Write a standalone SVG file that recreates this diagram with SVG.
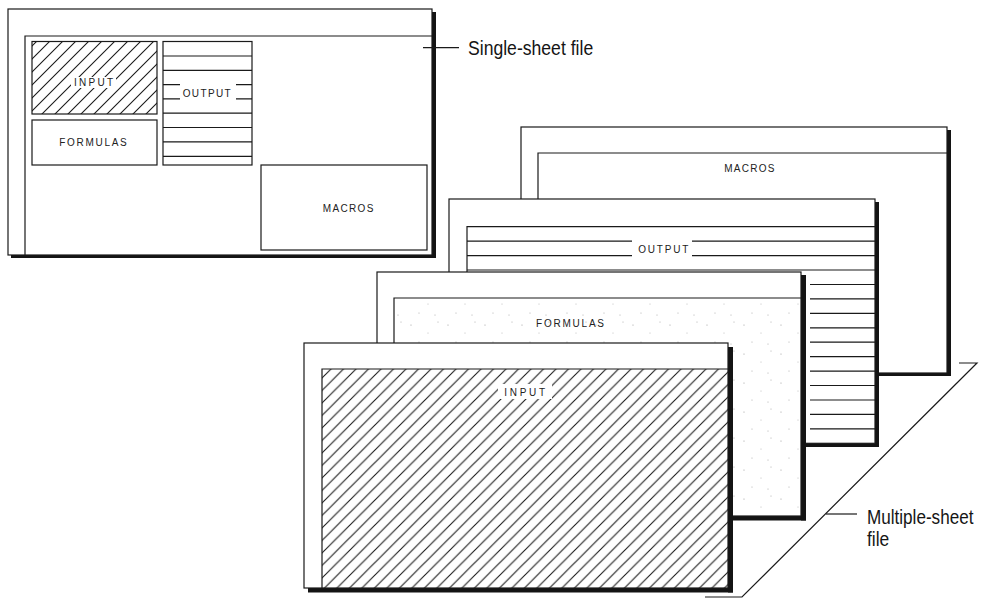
<svg xmlns="http://www.w3.org/2000/svg" width="982" height="598" viewBox="0 0 982 598">
<style>
.ln{fill:none;stroke:#1a1a1a;stroke-width:1.2}
.sh{fill:#141414;stroke:none}
.pg{fill:#fff;stroke:#1a1a1a;stroke-width:1.2}
.wh{fill:#fff;stroke:none}
.lab{font-family:"Liberation Sans",Arial,sans-serif;font-size:10px;fill:#222}
.big{font-family:"Liberation Sans",Arial,sans-serif;fill:#151515}
</style>
<defs>
<pattern id="hatchS" patternUnits="userSpaceOnUse" width="13" height="13">
<path d="M0,13 L13,0 M-3,3 L3,-3 M10,16 L16,10" stroke="#1a1a1a" stroke-width="1.1" fill="none"/>
</pattern>
<pattern id="hatchB" patternUnits="userSpaceOnUse" width="12.5" height="12.5">
<path d="M0,12.5 L12.5,0 M-3,3 L3,-3 M9.5,15.5 L15.5,9.5" stroke="#1a1a1a" stroke-width="1.1" fill="none"/>
</pattern>
<pattern id="stip" patternUnits="userSpaceOnUse" width="37" height="29">
<circle cx="4" cy="6" r="0.6" fill="#999"/>
<circle cx="21" cy="14" r="0.5" fill="#aaa"/>
<circle cx="31" cy="3" r="0.5" fill="#999"/>
<circle cx="12" cy="23" r="0.6" fill="#aaa"/>
<circle cx="28" cy="25" r="0.5" fill="#999"/>
</pattern>
</defs>

<!-- floor of the multiple-sheet file -->
<path id="floor" class="ln" d="M959,363 H977 L742,597 H705"/>

<!-- single-sheet file -->
<g id="single-sheet">
<rect class="sh" x="432" y="12" width="4" height="246"/>
<rect class="sh" x="11" y="254.5" width="425" height="3.5"/>
<rect class="pg" x="8" y="9" width="424" height="246"/>
<path class="ln" d="M25,255 V36 H432"/>
</g>
<g id="single-input">
<rect x="32" y="41.5" width="125" height="72.5" fill="url(#hatchS)"/>
<rect class="ln" x="32" y="41.5" width="125" height="72.5"/>
<rect class="wh" x="71" y="77" width="45" height="11"/>
<text class="lab" x="74" y="86" textLength="39" lengthAdjust="spacing">INPUT</text>
</g>
<g id="single-formulas">
<rect class="pg" x="32" y="120" width="125" height="45"/>
<text class="lab" x="59.3" y="146" textLength="67.4" lengthAdjust="spacing">FORMULAS</text>
</g>
<g id="single-output">
<rect class="pg" x="163" y="41.5" width="89" height="123.5"/>
<path class="ln" d="M163,56 H252 M163,70.3 H252 M163,84.6 H180 M236,84.6 H252 M163,98.9 H180 M236,98.9 H252 M163,113.2 H252 M163,127.5 H252 M163,141.8 H252 M163,156.4 H252"/>
<text class="lab" x="182.7" y="97.3" textLength="48" lengthAdjust="spacing">OUTPUT</text>
</g>
<g id="single-macros">
<rect class="pg" x="261" y="165" width="166" height="85"/>
<text class="lab" x="322.7" y="212" textLength="50.6" lengthAdjust="spacing">MACROS</text>
</g>

<!-- multiple-sheet file, back to front -->
<g id="sheet-macros">
<rect class="sh" x="947" y="130" width="4" height="246"/>
<rect class="sh" x="524" y="372.5" width="427" height="3.5"/>
<rect class="pg" x="521" y="127" width="426" height="246"/>
<path class="ln" d="M538,373 V153 H947"/>
<text class="lab" x="724.3" y="171.7" textLength="50" lengthAdjust="spacing">MACROS</text>
</g>
<g id="sheet-output">
<rect class="sh" x="875" y="202" width="4" height="245"/>
<rect class="sh" x="452" y="443" width="427" height="4"/>
<rect class="pg" x="449" y="199" width="426" height="244.3"/>
<path class="ln" d="M467,443.3 V226.7 H875 M467,241.1 H632 M692,241.1 H875 M467,255.6 H632 M692,255.6 H875 M467,270 H875 M810,284.5 H875 M810,298.9 H875 M810,313.3 H875 M810,327.8 H875 M810,342.2 H875 M810,356.7 H875 M810,371.1 H875 M810,385.5 H875 M810,400 H875 M810,414.4 H875 M810,428.9 H875"/>
<text class="lab" x="638.3" y="253.3" textLength="50" lengthAdjust="spacing">OUTPUT</text>
</g>
<g id="sheet-formulas">
<rect class="sh" x="801" y="275" width="5" height="245.5"/>
<rect class="sh" x="380" y="516" width="426" height="4.5"/>
<rect class="pg" x="377" y="272" width="424" height="244"/>
<rect x="395" y="299" width="405" height="216" fill="url(#stip)"/>
<path class="ln" d="M394,516 V298 H801"/>
<text class="lab" x="536" y="326.5" textLength="68" lengthAdjust="spacing">FORMULAS</text>
</g>
<g id="sheet-input">
<rect class="sh" x="728" y="347" width="5" height="245.5"/>
<rect class="sh" x="308" y="588" width="425" height="4.5"/>
<rect class="pg" x="304" y="343" width="424" height="245"/>
<rect x="322" y="369" width="406" height="219" fill="url(#hatchB)"/>
<path class="ln" d="M322,588 V369 H728"/>
<rect class="wh" x="498" y="384" width="54" height="15"/>
<text class="lab" x="504.3" y="395.7" textLength="40.7" lengthAdjust="spacing">INPUT</text>
</g>

<!-- callout leaders -->
<g id="connectors">
<path class="ln" d="M423,47.7 H459"/>
<path class="ln" d="M826,514 H857"/>
</g>
<g id="label-single">
<text class="big" transform="translate(468,55) scale(0.88,1)" font-size="20">Single-sheet file</text>
</g>
<g id="label-multiple">
<text class="big" transform="translate(867,524) scale(0.815,1)" font-size="21">Multiple-sheet</text>
<text class="big" transform="translate(867,546) scale(0.83,1)" font-size="21">file</text>
</g>
</svg>
